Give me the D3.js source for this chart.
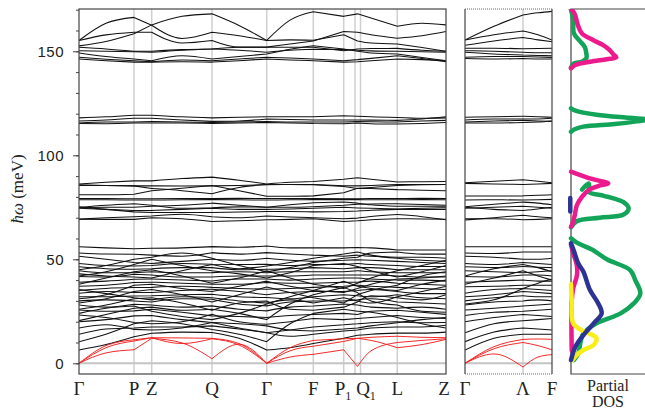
<!DOCTYPE html>
<html>
<head>
<meta charset="utf-8">
<script src="https://cdn.jsdelivr.net/npm/d3@7.9.0/dist/d3.min.js"></script>
<style>
  body { margin: 0; background: #fff; }
  svg { display: block; }
  .tick text { font-family: "Liberation Sans", Arial, sans-serif; font-size: 15px; fill: #222; }
  .serif { font-family: "Liberation Serif", "Times New Roman", serif; fill: #222; }
</style>
</head>
<body>
<svg id="chart" width="645" height="411"></svg>
<script>
// k positions along the path (main panel) where band energies were read
const kMain = [0, 27, 55, 72.7, 103, 133, 160, 187.7, 211, 234.3, 264.7, 278.5, 292, 318.3, 343, 367];
const mainBreaks = [0, 2, 3, 5, 7, 9, 10, 11, 13, 15];
const mainGrid = [55, 72.7, 133, 187.7, 234.3, 264.7, 276, 281.5, 318.3];
const mainLabelK = [0, 55, 72.7, 133, 187.7, 234.3, 264, 287, 318.3, 365];
const mainLabels = ['Γ', 'P', 'Z', 'Q', 'Γ', 'F', 'P|1', 'Q|1', 'L', 'Z'];

// optical branches, meV
const mainBands = [
  [155.2, 163.5, 166.3, 162.5, 156.2, 159.2, 157.5, 155.2, 165, 169, 166.8, 168, 166, 162, 163.5, 162.7],
  [155.2, 157.9, 159.2, 159.2, 154, 155.2, 152, 152, 153.5, 155, 159.5, 159.2, 158, 156.3, 157.5, 159.5],
  [152.6, 154.7, 158.4, 162.7, 166.8, 168, 162.4, 155.2, 155.5, 155.3, 158, 155, 154, 153.5, 151.8, 150],
  [151.9, 151.1, 150, 150, 150.8, 151.1, 151.9, 151.9, 151.9, 151.9, 150.3, 151.1, 151.3, 151.4, 150.5, 150],
  [150.3, 150, 149.8, 149.5, 150.5, 151.1, 150.5, 149.5, 150.5, 151, 150.9, 150.5, 150.2, 150, 149.8, 149.5],
  [149.2, 147.5, 146.3, 145.5, 147.9, 146.3, 147.5, 148.7, 151, 152.7, 151.1, 150, 149.2, 148.7, 147, 145.5],
  [147.1, 146.2, 145.5, 145, 145.8, 145.5, 146.3, 147.1, 146.8, 146.3, 145.5, 146, 146.6, 147.9, 146.5, 145],
  [146.3, 145.5, 144.8, 144.8, 145, 144.8, 145.5, 146.3, 145.8, 145.5, 144.8, 145, 145.5, 146.3, 146, 145.5],
  [118, 118.5, 119.3, 119.3, 118.5, 118, 118.3, 118.5, 118.5, 118.5, 119, 118.8, 118.5, 118.2, 117.8, 118],
  [116.5, 117, 117.8, 117.8, 117, 116.3, 116.5, 117.5, 117.2, 117, 117, 117, 116.9, 116.8, 117.5, 118.5],
  [115.5, 116, 116, 116.2, 116, 115.8, 116, 116.2, 116, 116, 116, 116.2, 116.1, 116, 116.5, 116.8],
  [115.3, 115.2, 115.5, 115.5, 115.5, 115.3, 115.5, 115.8, 115.5, 115.3, 115.2, 115.5, 115.2, 115, 115.3, 115.8],
  [86.2, 87, 87.7, 87.7, 88.8, 89.5, 88, 86.2, 87, 87.4, 88.5, 89.2, 88.5, 87.2, 87.3, 87.4],
  [85.8, 85.5, 85.3, 85.3, 85.2, 85.3, 85.5, 85.9, 86, 86, 85.4, 85.3, 85.5, 85.9, 86, 86],
  [81, 81, 81.3, 83, 84.2, 85.5, 83, 80.3, 80.3, 80.5, 82, 84.2, 84, 83.5, 83.2, 83],
  [85.5, 85.5, 85.3, 84, 83, 81.5, 84.5, 86, 86, 85.8, 85, 84, 84.5, 85.5, 85.8, 86],
  [79.2, 79.2, 79.1, 79.1, 79.2, 79.2, 79.3, 79.2, 79.2, 79.2, 79.1, 79.1, 79.2, 79.2, 79.3, 79.2],
  [78.6, 78.6, 78.5, 78.5, 78.6, 78.7, 78.6, 78.5, 78.6, 78.7, 78.8, 78.7, 78.6, 78.6, 78.7, 78.6],
  [75, 76, 76.7, 76, 74.5, 74.8, 75.2, 75, 76.2, 77.2, 77.5, 77, 76.2, 75.5, 75.5, 75.5],
  [74.8, 75, 75, 75.5, 76, 77, 76, 75, 75, 75.3, 76, 76.5, 76.6, 76.7, 76.3, 76],
  [74.5, 74, 73.5, 73.5, 74, 74.5, 74, 74, 74.2, 74.5, 75, 74.7, 74.5, 74.2, 74.5, 74.8],
  [75.2, 74, 72.8, 72.5, 72.5, 72.5, 72.7, 73, 73, 72.8, 73, 73.2, 73.6, 74, 74, 74],
  [69.3, 70, 70.5, 70.8, 71.7, 70.5, 70, 70.8, 70.3, 70, 69.5, 69.8, 70.6, 71.5, 70.5, 69],
  [69.3, 69.2, 69.2, 70, 69.5, 68.2, 68.5, 69, 69.2, 69.5, 68.2, 68.5, 69, 69.5, 69.4, 69.3],
  [6.4, 9, 12.8, 14.4, 15, 14.8, 12, 6.4, 7.5, 9.5, 12, 13.5, 14, 14.5, 14.5, 15],
  [10.4, 14, 19, 20.5, 19, 16.3, 14, 10.4, 19, 24, 26, 25, 24.5, 22, 19, 17],
  [20, 21, 22.8, 23, 21, 19.6, 17, 14.7, 16, 17.5, 18.5, 19, 19.5, 20, 19.5, 19.6],
  [23.2, 22, 19.6, 19, 20, 23.6, 20, 18.8, 20, 21.5, 21, 21.5, 22, 23, 22, 21.5],
  [25.6, 25, 25.2, 26, 24.5, 22.8, 22.5, 22, 23, 23.5, 24, 23.5, 25, 25.5, 24.5, 23.5],
  [28, 27, 28.4, 28, 27, 27.6, 26, 25.2, 27, 27.5, 28.5, 28, 27, 26.5, 27, 26],
  [30, 30.5, 30, 29.5, 31, 30.8, 28.5, 27.6, 29.5, 30, 30, 30.5, 31, 29.5, 29, 28.5],
  [32, 32, 32.4, 32.5, 33, 33.2, 32, 31.6, 31, 32, 33, 32.5, 32, 33, 31.5, 31],
  [33.7, 34.5, 34, 34, 35, 35.6, 34.5, 33, 34, 34.5, 34.5, 35, 35.5, 34.5, 33.5, 33.5],
  [35, 36, 36.4, 36.5, 37, 36.5, 36, 35.6, 36, 36.5, 37, 37.5, 37, 36.5, 36, 35.5],
  [37, 37.5, 38.8, 39, 38.5, 38, 38, 38.8, 38.5, 38.5, 39, 39, 39.5, 38.5, 38, 37.5],
  [39, 39.5, 40.4, 40.5, 40, 39.6, 40.5, 40.5, 40, 40.5, 41, 41, 40.5, 40, 40, 39.5],
  [41.7, 41.5, 42.8, 42.5, 41.5, 41.5, 42, 42, 42, 42.5, 42.5, 42.5, 42.5, 42, 41.5, 41.5],
  [44.5, 43.5, 43.5, 44, 43.5, 43.6, 44, 43.5, 44, 44, 44, 44.5, 44, 43.5, 43.5, 43.5],
  [46.4, 45.5, 45.2, 45.5, 46, 46, 45, 45.2, 45.5, 46, 45.5, 46, 46, 45, 45, 45],
  [48, 47, 46.8, 47, 48, 47.6, 47.5, 47.6, 47, 47.5, 47.5, 48, 47.5, 47, 46.5, 46.5],
  [51.5, 50, 48.5, 48, 49, 50, 49.5, 50.5, 49.5, 49, 49.5, 49.8, 49.5, 49, 48.5, 48],
  [53, 52.5, 52.4, 52, 51.5, 53.2, 52.5, 53.2, 52.5, 52, 51.5, 52, 51.5, 51, 51, 50.5],
  [56, 55.5, 55.1, 55.3, 55.5, 56.1, 55.8, 56.4, 55.5, 55.5, 55.5, 55.7, 55.5, 54.5, 54.5, 54.5],
  [45, 47, 50, 51, 53, 50.5, 47, 44, 46, 48.5, 50.5, 51, 53, 53.5, 52.5, 52.5],
  [38, 41, 44, 45, 42, 38.5, 41, 44.5, 41, 38, 36, 38.5, 41, 44.5, 47, 49.5],
  [29, 31, 34.5, 35.5, 33, 29.5, 33, 36.7, 34, 31.5, 29, 33, 35, 37.5, 42, 44],
  [26, 28, 31, 31.5, 29, 25.5, 29, 30, 26, 25.5, 27, 29.5, 32.5, 31.5, 30.5, 33],
  [20.5, 23.5, 26.5, 27, 25.5, 26, 24, 21, 28.5, 33, 36.5, 34, 30, 28, 25, 24.5],
  [24, 26.5, 27.5, 25, 22.5, 21, 24, 28.5, 32, 35, 39.5, 37, 36, 35, 38, 40],
  [42, 44, 47.5, 50, 47, 44.5, 43, 41, 43.5, 47, 48, 46.5, 44.5, 41.5, 44, 47],
  [14, 16.5, 17, 17.5, 17.5, 18, 16.5, 14.7, 13, 14, 15.5, 16, 17, 17.5, 17.5, 18.3],
  [17, 18.5, 16.3, 16, 17, 19.6, 19, 18, 16, 15.5, 16.5, 17, 18, 19.5, 21, 22],
  [31, 33, 37.5, 38, 36, 34.5, 37, 39.5, 37, 35, 34, 36, 38, 40.5, 41, 42],
  [43, 42, 41.5, 41, 44.5, 47.5, 45.5, 46.8, 48.5, 50.5, 52.5, 53.5, 52, 50.5, 49.5, 49],
  [35.5, 33.5, 31.5, 30.5, 32, 31.5, 30, 29, 30.5, 29, 31.5, 30, 29, 32, 34.5, 37]
];

// acoustic branches (red)
const mainAcoustic = [
  [0, 8.5, 11.3, 12.3, 12.2, 12, 9.5, 0, 7.5, 11, 11.8, 12, 11, 7.5, 9, 11.5],
  [0, 7.5, 10.7, 12.3, 9.5, 11.8, 8.8, 0, 6, 8.2, 10.5, 12, 12.5, 13, 12.5, 12.3],
  [0, 5, 6.5, 12, 9.8, 2.2, 9.2, 0, 3, 4.3, 6.5, -1.5, 6, 10, 11, 11.8]
];

// second panel: Γ - Λ - F
const kSide = [0, 29, 58, 73, 87];
const sideBreaks = [0, 2, 4];
const sideGrid = [58];
const sideLabelK = [0, 58, 87];
const sideLabels = ['Γ', 'Λ', 'F'];

const sideBands = [
  [155.4, 162, 167.5, 168.5, 169.2],
  [155.4, 158, 159.8, 158, 155.4],
  [152.9, 155, 156.6, 155.5, 154.6],
  [151.5, 151.5, 151.2, 151.3, 151.5],
  [150.3, 150, 149.5, 149.3, 149.3],
  [149.5, 148.7, 148.2, 148, 147.8],
  [147.1, 147.5, 147.5, 147.3, 147],
  [146.5, 146.3, 146.5, 146.3, 146.3],
  [118.3, 118.5, 118.8, 118.5, 118.3],
  [117, 117.5, 117.5, 117.5, 117.8],
  [116, 116.5, 116.8, 116.5, 116.3],
  [115.5, 115.5, 115.8, 116, 116.5],
  [86.8, 87.5, 88.2, 87.5, 86.8],
  [86.5, 86.2, 86, 86.2, 86.5],
  [80.4, 80.4, 80.5, 80.8, 81],
  [78.5, 78.6, 78.5, 78.6, 78.8],
  [75.3, 76.5, 77.5, 77, 76.2],
  [75, 74, 73.5, 74.2, 75],
  [74.5, 75, 75.5, 75, 74.5],
  [68.9, 70, 71.2, 70.5, 70],
  [69.5, 69.5, 69, 69.2, 69.5],
  [6.4, 12, 14, 14, 14],
  [10.4, 15, 17, 16.5, 16],
  [14.7, 19, 20.5, 21, 21.5],
  [20, 22, 23.5, 23, 22.5],
  [23, 24.5, 25, 25.5, 26],
  [25.6, 26.5, 27.5, 28, 28.5],
  [28, 29.5, 30, 30.5, 30],
  [30, 31.5, 32.5, 32, 32],
  [32, 33, 34.5, 34, 33.5],
  [33.7, 35.5, 36, 35.5, 35],
  [36.8, 37, 37.5, 37.5, 37.5],
  [39, 39.5, 40, 39.5, 39.5],
  [41.7, 41.5, 42.5, 42.5, 42],
  [44.5, 44, 43.5, 44, 44.5],
  [46.4, 46, 46.5, 46.2, 46],
  [48, 47.5, 48.5, 48, 47.5],
  [51.5, 51, 50, 50, 50.5],
  [53, 52.8, 53.5, 53.5, 53.5],
  [56, 56, 56, 56, 56],
  [38, 41, 44.5, 42, 40],
  [42, 45.5, 47.5, 46, 44],
  [28.5, 30.5, 36, 38.5, 40.5]
];

const sideAcoustic = [
  [0, 8, 11.5, 11.7, 11.5],
  [0, 7, 10, 8.5, 6.5],
  [0, 4.5, -1.8, 3, 4.2]
];

// partial DOS curves: [energy (meV), weight]
const dosGreen = [
  [[170, 0], [165, 0.03], [158.6, 0.04], [155, 0.12], [152, 0.19], [149, 0.21], [146.6, 0.21], [145, 0.15], [144.2, 0.04], [142.2, 0]],
  [[122.6, 0], [121.5, 0.06], [119.5, 0.35], [118, 0.8], [117.2, 1.05], [116.3, 0.9], [115, 0.6], [113.8, 0.17], [112.5, 0.05], [111.3, 0]],
  [[83.5, 0.15], [86.5, 0.24], [85, 0.25], [82.5, 0.24], [80.5, 0.45], [79.3, 0.58], [77.5, 0.72], [74.5, 0.79], [71.5, 0.72], [70, 0.39], [68.3, 0.08], [65.4, 0]],
  [[60.1, 0], [58, 0.08], [54.5, 0.3], [50, 0.49], [44.8, 0.81], [40, 0.88], [33.6, 0.95], [28.8, 0.86], [24, 0.68], [19.2, 0.35], [14.4, 0.17], [10, 0.13], [4.8, 0.1], [1.6, 0.04]]
];
const dosMagenta = [
  [[170.5, 0], [168, 0.05], [162, 0.1], [158.6, 0.15], [155.4, 0.3], [153, 0.44], [150.6, 0.53], [148.5, 0.58], [147.1, 0.62], [146.2, 0.49], [145, 0.26], [143.4, 0.06], [141.8, 0]],
  [[92.1, 0], [90.5, 0.13], [88.5, 0.3], [86.5, 0.51], [85.5, 0.4], [83.5, 0.25], [80, 0.15], [76, 0.08], [71, 0.05], [67, 0.02], [65.7, 0]],
  [[57, 0], [53, 0.03], [47, 0.08], [42, 0.08], [36, 0.03], [30, 0.01], [6, 0.01]]
];
const dosYellow = [
  [[38, 0], [30, 0.01], [19.2, 0.03], [15.4, 0.17], [13.5, 0.3], [12, 0.35], [8.8, 0.31], [6.4, 0.17], [4, 0.08], [1.5, 0.02]]
];
const dosNavy = [
  [[79.5, -0.01], [73, -0.01]],
  [[57.7, 0], [54, 0.04], [48, 0.1], [44, 0.17], [35.2, 0.26], [29, 0.37], [24, 0.42], [19.2, 0.31], [13.6, 0.17], [8, 0.06], [1.6, 0]]
];

const svg = d3.select('#chart');

let y = d3.scaleLinear().domain([-5, 170]).range([373.7, 9.7]);
let xMain = d3.scaleLinear().domain([0, 367]).range([79, 446]);
let xSide = d3.scaleLinear().domain([0, 87]).range([465, 552]);
let xDos = d3.scaleLinear().domain([0, 1]).range([571, 644]);

function clip(id, x0, x1) {
  svg.append('clipPath').attr('id', id)
    .append('rect').attr('x', x0).attr('y', 9).attr('width', x1 - x0).attr('height', 365);
}
clip('clipMain', 79, 446);
clip('clipSide', 465, 552);
clip('clipDos', 565, 645);

// path broken into segments between symmetry points so kinks stay sharp
function bandPath(ks, vals, breaks, x) {
  let line = d3.line().curve(d3.curveMonotoneX);
  let d = '';
  for (let s = 0; s < breaks.length - 1; s++) {
    let pts = d3.range(breaks[s], breaks[s + 1] + 1).map(i => [x(ks[i]), y(vals[i])]);
    d += line(pts);
  }
  return d;
}

function drawPanel(x, ks, breaks, grid, bands, acoustic, clipId) {
  let g = svg.append('g');
  g.selectAll('line.grid').data(grid).join('line')
    .attr('x1', d => x(d)).attr('x2', d => x(d))
    .attr('y1', 9).attr('y2', 374)
    .attr('stroke', '#cfcfcf').attr('stroke-width', 1.5);
  g.append('line')
    .attr('x1', x.range()[0]).attr('x2', x.range()[1])
    .attr('y1', y(0)).attr('y2', y(0))
    .attr('stroke', '#c4c4c4').attr('stroke-width', 2);

  let b = g.append('g').attr('clip-path', `url(#${clipId})`).attr('fill', 'none');
  b.selectAll('path.band').data(bands).join('path')
    .attr('d', d => bandPath(ks, d, breaks, x))
    .attr('stroke', '#111').attr('stroke-width', 1.05);
  b.selectAll('path.ac').data(acoustic).join('path')
    .attr('d', d => bandPath(ks, d, breaks, x))
    .attr('stroke', '#f0201e').attr('stroke-width', 0.95);
}

drawPanel(xMain, kMain, mainBreaks, mainGrid, mainBands, mainAcoustic, 'clipMain');
drawPanel(xSide, kSide, sideBreaks, sideGrid, sideBands, sideAcoustic, 'clipSide');

// frames
svg.append('rect').attr('x', 79).attr('y', 9).attr('width', 367).attr('height', 365)
  .attr('fill', 'none').attr('stroke', '#444').attr('stroke-width', 1.2);
svg.append('line').attr('x1', 465).attr('x2', 465).attr('y1', 9).attr('y2', 374).attr('stroke', '#444').attr('stroke-width', 1.2);
svg.append('line').attr('x1', 552).attr('x2', 552).attr('y1', 9).attr('y2', 374).attr('stroke', '#444').attr('stroke-width', 1.2);
[9, 374].forEach(yy => {
  svg.append('line').attr('x1', 465).attr('x2', 552).attr('y1', yy).attr('y2', yy)
    .attr('stroke', '#666').attr('stroke-width', 1.2).attr('stroke-dasharray', '1 1');
});
svg.append('path').attr('d', 'M645,9H571V374H645')
  .attr('fill', 'none').attr('stroke', '#444').attr('stroke-width', 1.2);

// y axis
let minor = svg.append('g').attr('transform', 'translate(79,0)')
  .call(d3.axisLeft(y).tickValues(d3.range(0, 171, 10)).tickSize(3).tickFormat(''));
minor.select('.domain').remove();
minor.selectAll('line').attr('stroke', '#444');
let major = svg.append('g').attr('transform', 'translate(79,0)')
  .call(d3.axisLeft(y).tickValues([0, 50, 100, 150]).tickSize(6).tickPadding(9));
major.select('.domain').remove();
major.selectAll('line').attr('stroke', '#444');
major.selectAll('text').attr('letter-spacing', '0.5px');

let ylab = svg.append('text').attr('class', 'serif')
  .attr('transform', 'translate(23,189) rotate(-90)')
  .attr('text-anchor', 'middle').attr('font-size', 17);
ylab.append('tspan').attr('font-style', 'italic').text('ħω');
ylab.append('tspan').text(' (meV)');

// k-point labels
function drawLabels(x, ks, labels) {
  labels.forEach((lab, i) => {
    let [main, sub] = lab.split('|');
    let t = svg.append('text').attr('class', 'serif')
      .attr('x', x(ks[i])).attr('y', 395)
      .attr('text-anchor', 'middle').attr('font-size', 19)
      .text(main);
    if (sub) t.append('tspan').attr('font-size', 12).attr('dy', 5).text(sub);
  });
}
drawLabels(xMain, mainLabelK, mainLabels);
drawLabels(xSide, sideLabelK, sideLabels);

// partial DOS
let dosLine = d3.line().x(d => xDos(d[1])).y(d => y(d[0])).curve(d3.curveCatmullRom);
let dg = svg.append('g').attr('clip-path', 'url(#clipDos)').attr('fill', 'none')
  .attr('stroke-width', 4.5).attr('stroke-linecap', 'round').attr('stroke-linejoin', 'round');
[[dosGreen, '#12a55a'], [dosMagenta, '#ec1a8d'], [dosYellow, '#f8ee1a'], [dosNavy, '#2c3392']]
  .forEach(([curves, color]) => {
    dg.selectAll(null).data(curves).join('path')
      .attr('d', dosLine).attr('stroke', color);
  });

svg.append('text').attr('class', 'serif').attr('x', 608).attr('y', 391)
  .attr('text-anchor', 'middle').attr('font-size', 16).text('Partial');
svg.append('text').attr('class', 'serif').attr('x', 608).attr('y', 407)
  .attr('text-anchor', 'middle').attr('font-size', 16).text('DOS');
</script>
</body>
</html>
